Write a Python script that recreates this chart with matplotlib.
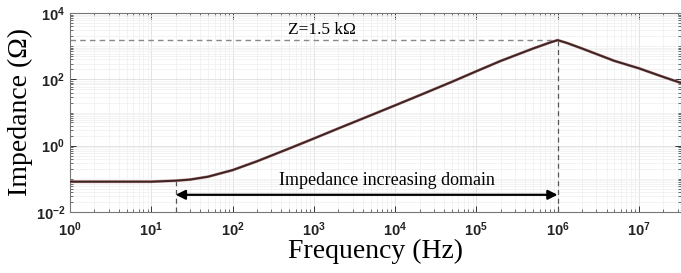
import numpy as np
import matplotlib
matplotlib.use('Agg')
from matplotlib import pyplot as plt
from matplotlib.ticker import LogLocator, FixedLocator, FixedFormatter, NullFormatter

plt.rcParams['mathtext.fontset'] = 'custom'
plt.rcParams['mathtext.rm'] = 'Liberation Sans:bold'
plt.rcParams['mathtext.default'] = 'rm'

# values
freq = [1, 10, 20, 30, 50, 100, 200, 500, 1e3, 2e3, 5e3, 1e4, 2e4, 5e4,
        1e5, 2e5, 5e5, 8e5, 1e6, 1.3e6, 2e6, 5e6, 1e7, 2e7, 3.3e7]
impedance = [0.082, 0.082, 0.088, 0.095, 0.116, 0.183, 0.338, 0.824, 1.64, 3.3, 8.2,
             16.4, 33, 84, 175, 360, 850, 1280, 1520, 1250, 850, 360, 215, 118, 78]

peak_freq = 1e6
peak_z = 1500
start_freq = 20
arrow_z = 0.033

x_ticks = [1, 10, 100, 1e3, 1e4, 1e5, 1e6, 1e7]
x_labels = [r'$10^{%d}$' % i for i in range(8)]
y_ticks = [1e-2, 1, 1e2, 1e4]
y_labels = [r'$10^{-2}$', r'$10^{0}$', r'$10^{2}$', r'$10^{4}$']

fig = plt.figure(figsize=(6.81, 2.73), dpi=100)
ax = fig.add_axes([70 / 681, 1 - 212 / 273, 1 - 70 / 681, 199 / 273])

ax.set_xscale('log')
ax.set_yscale('log')
ax.set_xlim(1, 3.3e7)
ax.set_ylim(1e-2, 1e4)

ax.grid(True, which='major', color='#dddddd', linewidth=0.6)
ax.grid(True, which='minor', color='#efefef', linewidth=0.5)
ax.set_axisbelow(True)

ax.plot(freq, impedance, color='#c89090', linewidth=2.1, zorder=3)
ax.plot(freq, impedance, color='#3a2424', linewidth=1.4, zorder=4)

# guide lines
ax.plot([1, peak_freq], [peak_z, peak_z], '--', color='#888888', linewidth=1.0, dashes=(4, 3))
ax.plot([peak_freq, peak_freq], [1e-2, peak_z], '--', color='#555555', linewidth=0.9, dashes=(4, 3))
ax.plot([start_freq, start_freq], [1e-2, 0.085], '--', color='#555555', linewidth=0.9, dashes=(4, 3))

ax.annotate('', xy=(start_freq, arrow_z), xytext=(peak_freq, arrow_z),
            arrowprops=dict(arrowstyle='<|-|>', color='black', lw=1.6, mutation_scale=14,
                            shrinkA=0, shrinkB=0))
ax.text(8e3, 0.05, 'Impedance increasing domain', family='Liberation Serif',
        fontsize=13, ha='center', va='bottom')
ax.text(1.25e3, 1.75e3, 'Z=1.5 k\u03a9', family='Liberation Serif',
        fontsize=12.5, ha='center', va='bottom')

ax.xaxis.set_major_locator(FixedLocator(x_ticks))
ax.xaxis.set_major_formatter(FixedFormatter(x_labels))
ax.xaxis.set_minor_locator(LogLocator(base=10, subs=np.arange(2, 10), numticks=20))
ax.xaxis.set_minor_formatter(NullFormatter())
ax.yaxis.set_major_locator(FixedLocator(y_ticks))
ax.yaxis.set_major_formatter(FixedFormatter(y_labels))
ax.yaxis.set_minor_locator(LogLocator(base=10, subs=np.arange(1, 10), numticks=20))
ax.yaxis.set_minor_formatter(NullFormatter())

ax.tick_params(which='both', direction='in', top=True, right=True, colors='#333333',
               labelsize=10.5, labelcolor='#222222')
ax.tick_params(which='major', length=4, width=0.7)
ax.tick_params(which='minor', length=2, width=0.5)
ax.tick_params(axis='x', pad=6)
for s in ax.spines.values():
    s.set_color('#777777')
    s.set_linewidth(0.8)

ax.set_xlabel('Frequency (Hz)', family='Liberation Serif', fontsize=20, labelpad=0)
ax.set_ylabel('Impedance (\u03a9)', family='Liberation Serif', fontsize=20, labelpad=2)

fig.savefig('out.png', dpi=100)
